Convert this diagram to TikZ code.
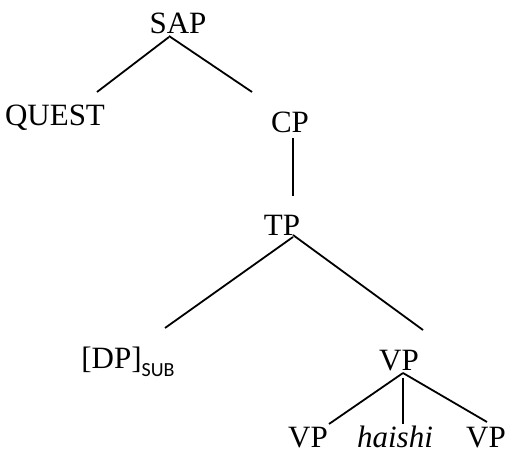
\documentclass[tikz,border=0pt]{standalone}
\usepackage{fontspec}
\setmainfont{Liberation Serif}
\newfontfamily\subfont{Carlito}
\usetikzlibrary{positioning}

\tikzset{
    cat/.style={anchor=base,inner sep=0pt,font=\fontsize{15.5}{18}\selectfont},
    branch/.style={line width=0.9pt}
}

\begin{document}
\begin{tikzpicture}[x=0.5pt,y=-0.5pt]
    \useasboundingbox (0,0) rectangle (506,453);

    \node[cat] (sap) at (178,34) {SAP};
    \node[cat] (quest) at (55,126) {QUEST};
    \node[cat] (cp) at (290,133) {CP};
    \node[cat] (tp) at (282,235) {TP};
    \node[cat] (dp) at (128,368) {[DP]\raisebox{-4pt}{\subfont\fontsize{10}{12}\selectfont SUB}};
    \node[cat] (vp) at (399,370) {VP};
    \node[cat] (vpleft) at (308,447) {VP};
    \node[cat] (haishi) at (395,447) {\textit{haishi}};
    \node[cat] (vpright) at (486,447) {VP};

    \draw[branch] ([shift={(-9,3)}]sap.base) -- ([shift={(42,-34)}]quest.base);
    \draw[branch] ([shift={(-9,2)}]sap.base) -- ([shift={(-38,-41)}]cp.base);
    \draw[branch] ([shift={(3,5)}]cp.base) -- ([shift={(11,-39)}]tp.base);
    \draw[branch] ([shift={(11,2)}]tp.base) -- ([shift={(37,-40)}]dp.base);
    \draw[branch] ([shift={(11,0)}]tp.base) -- ([shift={(24,-40)}]vp.base);
    \draw[branch] ([shift={(4,3)}]vp.base) -- ([shift={(21,-23)}]vpleft.base);
    \draw[branch] ([shift={(4,8)}]vp.base) -- ([shift={(8,-23)}]haishi.base);
    \draw[branch] ([shift={(4,3)}]vp.base) -- ([shift={(1,-25)}]vpright.base);
\end{tikzpicture}
\end{document}
